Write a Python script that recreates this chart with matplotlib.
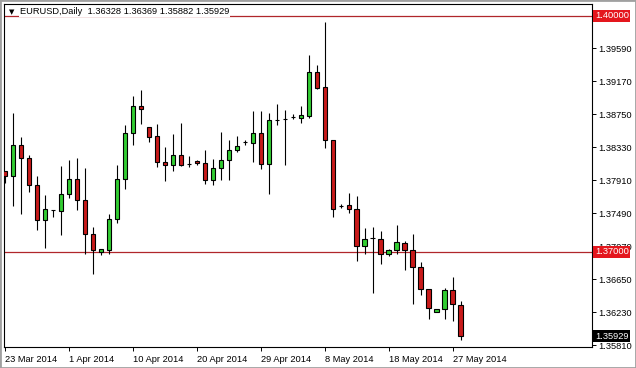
import pandas as pd
import matplotlib
matplotlib.use('Agg')
import matplotlib.pyplot as plt
from matplotlib.patches import Rectangle

# daily EURUSD bars (broker feed with Sunday bars)
opens = [1.38022, 1.37964, 1.38357, 1.38192, 1.37849, 1.37406, 1.37536, 1.37520,
         1.37735, 1.37926, 1.37663, 1.37228, 1.37000, 1.37025, 1.37418, 1.37926,
         1.38509, 1.38855, 1.38585, 1.38471, 1.38141, 1.38103, 1.38230, 1.38111,
         1.38158, 1.38132, 1.37917, 1.38065, 1.38166, 1.38291, 1.38390, 1.38382,
         1.38509, 1.38116, 1.38681, 1.38694, 1.38712, 1.38707, 1.38732, 1.39282,
         1.39092, 1.38420, 1.37587, 1.37591, 1.37545, 1.37076, 1.37172, 1.37165,
         1.36975, 1.37025, 1.37114, 1.37025, 1.36810, 1.36531, 1.36239, 1.36277,
         1.36518, 1.36328]
highs = [1.38031, 1.38762, 1.38458, 1.38234, 1.37967, 1.37726, 1.37536, 1.38085,
         1.38161, 1.38192, 1.38069, 1.37312, 1.37038, 1.37486, 1.38107, 1.38614,
         1.38982, 1.39058, 1.38585, 1.38627, 1.38331, 1.38500, 1.38643, 1.38217,
         1.38170, 1.38293, 1.38179, 1.38529, 1.38424, 1.38475, 1.38424, 1.38795,
         1.38795, 1.38762, 1.38880, 1.38804, 1.38754, 1.38855, 1.39505, 1.39375,
         1.39920, 1.38420, 1.37612, 1.37748, 1.37714, 1.37304, 1.37317, 1.37270,
         1.37035, 1.37342, 1.37139, 1.37232, 1.36873, 1.36531, 1.36277, 1.36538,
         1.36683, 1.36369]
lows = [1.37879, 1.37587, 1.37477, 1.37756, 1.37274, 1.37046, 1.37444, 1.37210,
        1.37680, 1.37527, 1.36975, 1.36721, 1.36957, 1.36970, 1.37368, 1.37799,
        1.38357, 1.38623, 1.38402, 1.38078, 1.37895, 1.38027, 1.38095, 1.38078,
        1.38098, 1.37862, 1.37844, 1.37917, 1.37908, 1.38265, 1.38357, 1.38136,
        1.38047, 1.37730, 1.38618, 1.38103, 1.38686, 1.38636, 1.38703, 1.39074,
        1.38319, 1.37439, 1.37553, 1.37494, 1.36881, 1.36970, 1.36471, 1.36839,
        1.36944, 1.36970, 1.36769, 1.36335, 1.36455, 1.36150, 1.36239, 1.36150,
        1.36125, 1.35882]
closes = [1.37967, 1.38357, 1.38192, 1.37849, 1.37406, 1.37549, 1.37536, 1.37735,
          1.37926, 1.37659, 1.37223, 1.37025, 1.37038, 1.37418, 1.37929, 1.38509,
          1.38855, 1.38813, 1.38458, 1.38141, 1.38103, 1.38230, 1.38103, 1.38111,
          1.38128, 1.37917, 1.38065, 1.38170, 1.38293, 1.38344, 1.38395, 1.38509,
          1.38116, 1.38677, 1.38681, 1.38694, 1.38712, 1.38741, 1.39282, 1.39087,
          1.38424, 1.37549, 1.37587, 1.37540, 1.37071, 1.37165, 1.37172, 1.36975,
          1.37025, 1.37127, 1.37023, 1.36810, 1.36531, 1.36290, 1.36277, 1.36518,
          1.36340, 1.35929]

price_ticks = [1.39590, 1.39170, 1.38750, 1.38330, 1.37910,
               1.37490, 1.37070, 1.36650, 1.36230, 1.35810]
date_ticks = ['23 Mar 2014', '1 Apr 2014', '10 Apr 2014', '20 Apr 2014',
              '29 Apr 2014', '8 May 2014', '18 May 2014', '27 May 2014']
hlines = [1.40000, 1.37000]
title = 'EURUSD,Daily  1.36328 1.36369 1.35882 1.35929'

UP = '#32cd32'
DOWN = '#c81a1a'
LINE_RED = '#b0262b'
LABEL_RED = '#e4161d'
FONT = ['Liberation Sans', 'DejaVu Sans']
FS = 6.7

dates = pd.bdate_range('2014-03-23', periods=len(opens), freq='C',
                       weekmask='Sun Mon Tue Wed Thu Fri')
date_names = [f'{d.day} {d.strftime("%b %Y")}' for d in dates]

fig = plt.figure(figsize=(6.36, 3.68), dpi=100)
fig.patch.set_facecolor('white')
ax = fig.add_axes([4 / 636, 1 - 347 / 368, 588 / 636, 343 / 368])

for i, (o, h, l, c) in enumerate(zip(opens, highs, lows, closes)):
    ax.vlines(i, l, h, color='black', lw=0.8, zorder=2)
    if c > o:
        color = UP
    elif c < o:
        color = DOWN
    else:
        color = 'black'
    ax.bar(i, abs(c - o), bottom=min(o, c), width=0.6, color=color,
           edgecolor='black', linewidth=0.8, zorder=3)

for level in hlines:
    ax.axhline(level, color=LINE_RED, lw=0.9, zorder=1)

ax.set_xlim(-0.13, 73.4)
ax.set_ylim(1.3579, 1.4015)

ax.yaxis.tick_right()
ax.set_yticks(price_ticks)
ax.set_yticklabels([f'{v:.5f}' for v in price_ticks])
ax.tick_params(axis='y', direction='out', length=3, width=0.7, pad=1.5,
               labelsize=FS)
ax.set_xticks([date_names.index(t) for t in date_ticks])
ax.set_xticklabels(date_ticks)
ax.tick_params(axis='x', direction='out', length=3, width=0.7, pad=2.5,
               labelsize=FS)
for lbl in ax.get_xticklabels() + ax.get_yticklabels():
    lbl.set_fontfamily(FONT)
for lbl in ax.get_xticklabels():
    lbl.set_ha('left')
for sp in ax.spines.values():
    sp.set_linewidth(0.8)

# price markers on the right axis
box = dict(boxstyle='square,pad=0.18', ec='none')
for level in hlines:
    ax.annotate(f'{level:.5f}', xy=(1.0, level), xycoords=('axes fraction', 'data'),
                xytext=(2, 0), textcoords='offset points', ha='left', va='center',
                color='white', fontsize=FS, family=FONT, annotation_clip=False,
                bbox=dict(box, fc=LABEL_RED), zorder=10)
ax.annotate(f'{closes[-1]:.5f}', xy=(1.0, closes[-1]), xycoords=('axes fraction', 'data'),
            xytext=(2, 0), textcoords='offset points', ha='left', va='center',
            color='white', fontsize=FS, family=FONT, annotation_clip=False,
            bbox=dict(box, fc='black'), zorder=10)

# header text in the top left corner
fig.text(9 / 636, 1 - 12.5 / 368, '\u25bc', fontsize=5, family='DejaVu Sans',
         va='center', ha='left')
fig.text(20 / 636, 1 - 12 / 368, title, fontsize=FS, family=FONT,
         va='center', ha='left',
         bbox=dict(boxstyle='square,pad=0.1', fc='white', ec='none'), zorder=5)

fig.add_artist(Rectangle((0, 0), 1, 1, transform=fig.transFigure, fill=False,
                         edgecolor='#a0a0a0', lw=2))

fig.savefig('out.png', dpi=100)
